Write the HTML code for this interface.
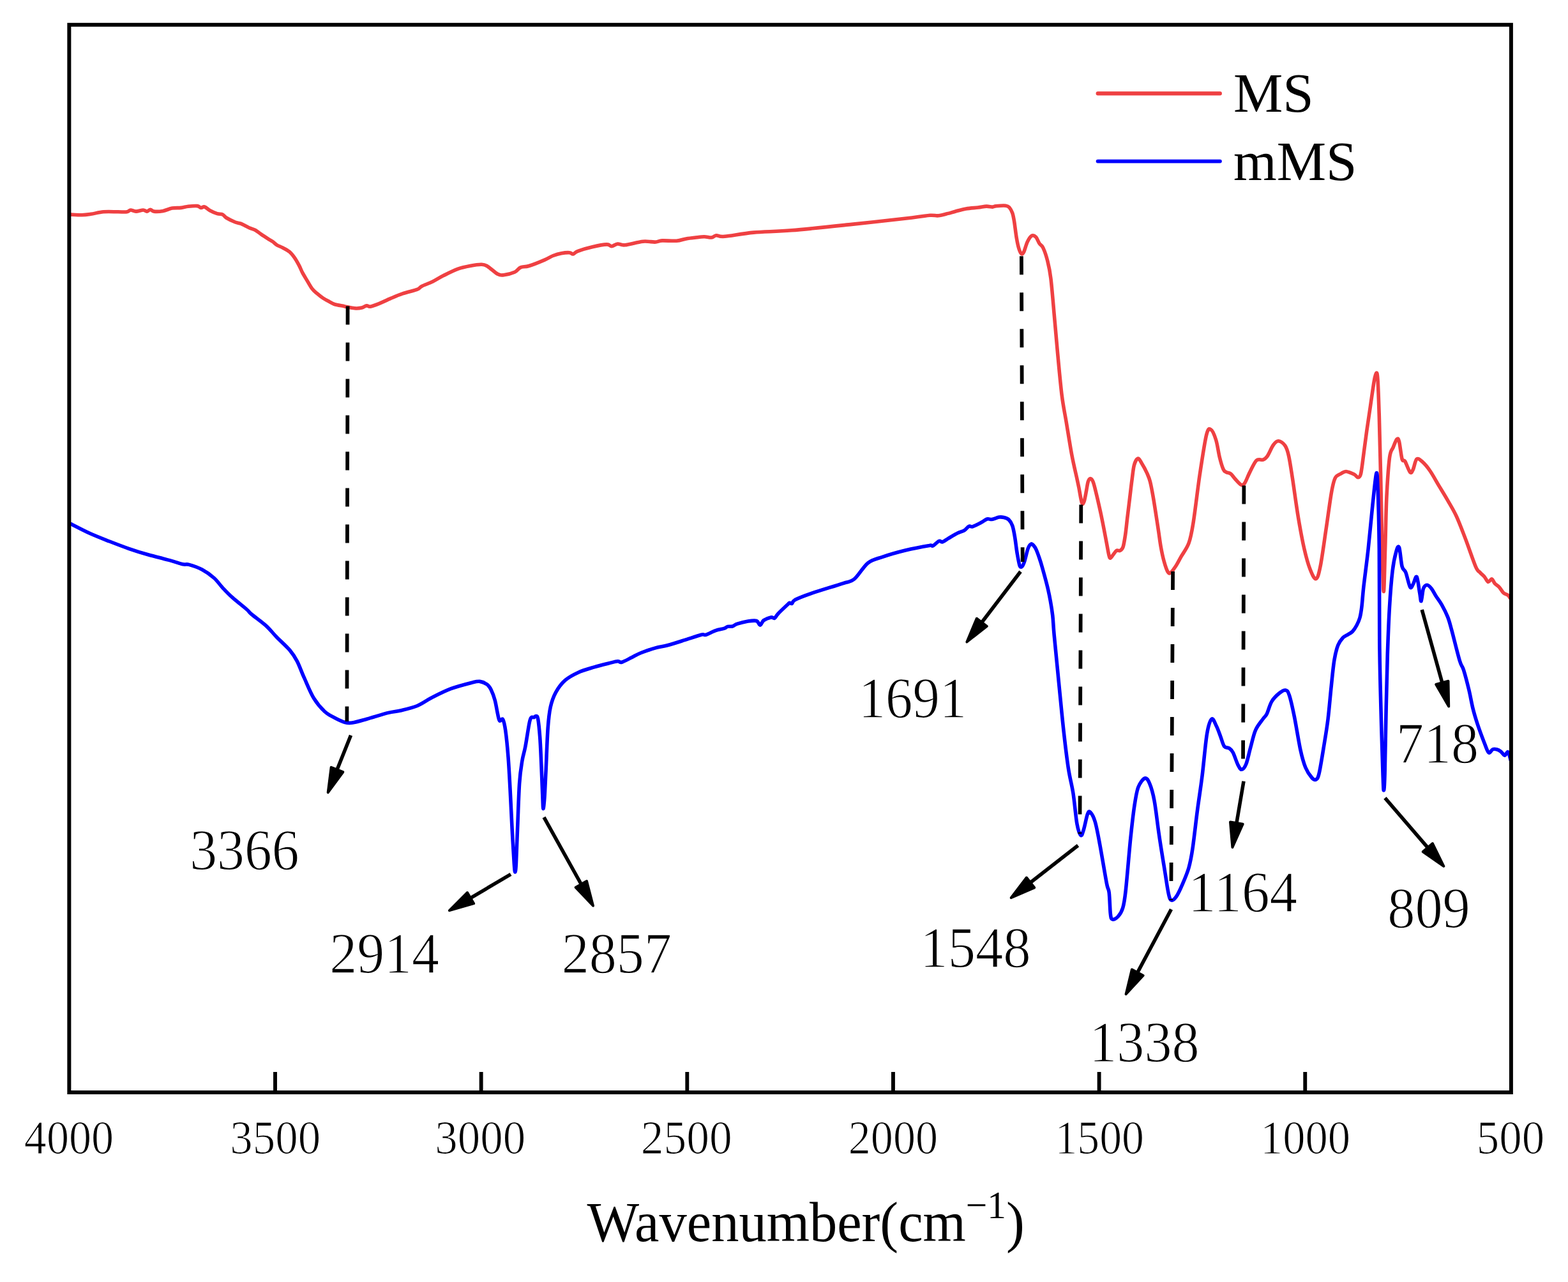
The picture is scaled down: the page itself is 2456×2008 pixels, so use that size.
<!DOCTYPE html><html><head><meta charset="utf-8"><style>html,body{margin:0;padding:0;background:#fff;overflow:hidden;}svg{display:block;} text{font-family:"Liberation Serif","Times New Roman",serif;fill:#000;}</style></head><body>
<svg width="2456" height="2008" viewBox="0 0 2456 2008">
<rect width="2456" height="2008" fill="#fff"/>
<path d="M109.9,336.0 C113.0,336.1 122.9,336.8 128.3,336.7 C133.7,336.6 136.8,336.1 142.4,335.3 C148.1,334.5 155.1,332.4 162.2,331.8 C169.3,331.2 178.7,331.8 184.8,331.8 C190.9,331.8 195.6,332.3 198.9,331.8 C202.2,331.3 202.2,329.1 204.6,329.0 C206.9,328.9 209.7,331.1 213.0,331.1 C216.3,331.1 221.5,329.0 224.3,329.0 C227.1,329.0 228.1,331.2 230.0,331.1 C231.9,331.0 233.7,328.3 235.6,328.3 C237.5,328.3 238.0,330.8 241.3,331.1 C244.6,331.5 250.7,331.2 255.4,330.4 C260.1,329.6 264.9,326.9 269.6,326.1 C274.3,325.3 279.5,325.9 283.7,325.4 C287.9,324.9 290.8,323.8 295.0,323.3 C299.2,322.8 305.8,322.2 309.1,322.6 C312.4,323.0 312.9,325.2 314.8,325.4 C316.7,325.6 318.0,323.3 320.4,324.0 C322.8,324.7 325.6,327.9 328.9,329.7 C332.2,331.5 336.9,333.6 340.2,334.6 C343.5,335.7 346.3,334.9 348.7,336.0 C351.1,337.1 351.0,339.0 354.3,341.0 C357.6,343.0 364.7,346.5 368.5,348.0 C372.3,349.5 373.5,348.8 377.0,350.2 C380.5,351.6 385.9,354.8 389.7,356.5 C393.5,358.2 396.8,358.8 400.0,360.5 C403.2,362.2 405.7,364.6 409.0,366.9 C412.3,369.2 417.0,372.2 420.0,374.1 C423.0,376.0 424.6,376.7 426.9,378.3 C429.2,379.9 431.1,382.2 433.8,383.8 C436.5,385.4 439.6,386.3 442.8,388.0 C446.0,389.7 450.1,391.6 453.2,394.2 C456.3,396.8 459.0,400.3 461.5,403.9 C464.0,407.5 466.3,411.7 468.4,415.6 C470.5,419.5 471.8,423.5 473.9,427.4 C476.0,431.3 478.4,435.1 480.8,439.1 C483.2,443.1 485.9,448.2 488.4,451.6 C490.9,455.0 493.1,456.7 496.0,459.2 C498.9,461.7 502.5,464.6 505.7,466.8 C508.9,469.0 512.4,470.7 515.4,472.3 C518.4,473.9 519.6,475.2 523.7,476.5 C527.8,477.8 534.7,478.8 540.0,479.9 C545.3,480.9 550.9,482.4 555.4,482.8 C559.9,483.2 563.6,482.8 566.7,482.1 C569.8,481.4 572.0,479.0 574.2,478.7 C576.4,478.4 576.8,480.7 579.9,480.2 C583.0,479.7 587.7,478.0 593.0,475.9 C598.3,473.8 605.6,470.1 611.9,467.4 C618.2,464.7 623.8,462.2 630.7,459.9 C637.6,457.5 648.3,455.2 653.3,453.3 C658.3,451.4 656.8,450.2 660.9,448.2 C665.0,446.1 672.1,443.8 677.8,441.0 C683.4,438.2 688.2,434.9 694.8,431.6 C701.4,428.3 710.5,423.7 717.4,421.2 C724.3,418.7 730.2,417.6 736.2,416.5 C742.2,415.4 748.8,414.3 753.2,414.3 C757.6,414.3 758.2,414.0 762.6,416.5 C767.0,419.0 775.2,426.9 779.6,429.3 C784.0,431.7 784.6,431.2 789.0,430.7 C793.4,430.2 801.6,428.3 806.0,426.3 C810.4,424.3 811.6,420.4 815.4,418.8 C819.2,417.2 822.3,418.4 828.6,416.5 C834.9,414.6 846.7,409.8 853.0,407.1 C859.3,404.4 861.9,402.2 866.3,400.5 C870.7,398.8 875.1,397.5 879.4,396.7 C883.7,395.9 889.0,395.5 892.0,395.7 C895.0,395.9 895.5,398.4 897.7,398.0 C899.9,397.6 900.2,395.2 905.2,393.3 C910.2,391.4 920.3,388.4 927.8,386.7 C935.3,385.0 945.4,383.1 950.4,382.9 C955.4,382.7 955.2,385.8 958.0,385.7 C960.8,385.6 963.9,382.3 967.4,382.0 C970.9,381.7 972.1,384.4 978.7,383.8 C985.3,383.2 999.1,379.0 1007.0,378.2 C1014.9,377.4 1020.8,379.3 1025.8,379.1 C1030.8,378.9 1031.4,377.2 1037.1,376.9 C1042.8,376.6 1053.4,377.7 1059.7,377.2 C1066.0,376.7 1070.1,374.7 1074.8,373.9 C1079.5,373.1 1083.3,372.7 1088.0,372.2 C1092.7,371.7 1098.6,370.7 1103.0,370.7 C1107.4,370.7 1111.2,372.3 1114.4,372.0 C1117.6,371.7 1118.5,369.1 1121.9,368.8 C1125.4,368.5 1125.4,371.1 1135.1,370.3 C1144.8,369.5 1162.8,365.7 1180.3,364.1 C1197.8,362.5 1214.3,362.9 1240.0,360.8 C1265.7,358.7 1302.8,354.7 1334.2,351.4 C1365.6,348.1 1408.0,343.4 1428.4,341.0 C1448.8,338.6 1449.8,337.8 1456.7,337.3 C1463.6,336.8 1465.2,338.3 1469.9,337.8 C1474.6,337.3 1480.5,335.5 1484.9,334.4 C1489.3,333.3 1491.5,332.4 1496.2,331.2 C1500.9,329.9 1507.2,327.9 1513.2,326.9 C1519.2,325.9 1526.7,325.6 1532.0,325.0 C1537.3,324.4 1541.4,323.2 1545.2,323.1 C1549.0,323.0 1552.1,324.2 1554.6,324.1 C1557.1,324.0 1556.8,323.0 1560.3,322.7 C1563.8,322.4 1572.0,321.8 1575.4,322.2 C1578.9,322.6 1579.3,323.1 1581.0,325.0 C1582.7,326.9 1584.4,329.9 1585.7,333.5 C1587.0,337.1 1587.5,340.1 1588.6,346.7 C1589.7,353.3 1591.0,365.8 1592.3,373.0 C1593.5,380.2 1594.8,385.9 1596.1,390.0 C1597.4,394.1 1598.7,396.7 1599.9,397.5 C1601.2,398.3 1602.0,397.8 1603.6,394.7 C1605.2,391.6 1607.2,382.9 1609.3,378.7 C1611.3,374.5 1613.7,370.6 1615.9,369.3 C1618.1,368.1 1620.5,369.2 1622.5,371.2 C1624.5,373.2 1626.2,378.7 1628.1,381.5 C1630.0,384.3 1631.7,383.6 1633.8,388.1 C1635.9,392.6 1638.7,400.4 1640.7,408.4 C1642.7,416.4 1644.2,422.2 1645.9,436.0 C1647.6,449.8 1649.4,472.4 1651.1,491.4 C1652.8,510.4 1654.3,528.8 1656.3,550.1 C1658.3,571.4 1660.9,600.8 1663.2,619.2 C1665.5,637.6 1667.5,645.1 1670.1,660.7 C1672.7,676.3 1676.1,698.1 1678.8,712.6 C1681.5,727.1 1684.6,739.4 1686.5,748.0 C1688.4,756.6 1688.7,757.9 1690.0,764.5 C1691.3,771.1 1693.2,784.1 1694.6,787.6 C1695.9,791.1 1696.9,788.4 1698.1,785.3 C1699.2,782.2 1700.5,774.3 1701.5,769.1 C1702.5,763.9 1703.3,757.4 1704.4,754.1 C1705.5,750.8 1706.7,749.5 1707.9,749.5 C1709.2,749.5 1710.7,751.4 1711.9,754.1 C1713.1,756.8 1714.0,760.5 1715.3,765.7 C1716.6,770.9 1718.5,778.6 1720.0,785.3 C1721.5,792.0 1723.1,798.7 1724.6,806.0 C1726.1,813.3 1727.7,821.1 1729.2,829.0 C1730.7,836.9 1732.5,846.3 1733.8,853.2 C1735.1,860.1 1736.2,867.0 1737.2,870.5 C1738.2,874.0 1738.3,874.4 1739.5,874.0 C1740.7,873.6 1742.5,870.1 1744.1,868.2 C1745.6,866.3 1747.1,863.4 1748.8,862.4 C1750.5,861.4 1752.8,863.3 1754.5,862.4 C1756.2,861.5 1757.8,860.7 1759.1,856.7 C1760.4,852.7 1761.4,846.1 1762.6,838.2 C1763.8,830.3 1764.8,819.0 1766.0,809.4 C1767.2,799.8 1768.3,790.2 1769.5,780.6 C1770.7,771.0 1771.8,760.4 1773.0,751.8 C1774.2,743.2 1774.9,734.4 1776.4,728.8 C1777.9,723.2 1780.2,718.7 1782.2,718.1 C1784.2,717.5 1785.8,721.6 1788.2,725.4 C1790.6,729.2 1794.4,736.2 1796.6,741.1 C1798.8,746.0 1799.9,748.2 1801.5,754.5 C1803.1,760.8 1804.7,769.6 1806.3,778.7 C1807.9,787.8 1809.7,799.8 1811.1,808.9 C1812.5,818.0 1813.6,825.0 1814.8,833.1 C1816.0,841.2 1817.0,849.6 1818.4,857.3 C1819.8,865.0 1821.4,872.6 1823.2,879.1 C1825.0,885.6 1827.5,893.2 1829.3,896.1 C1831.1,899.0 1831.9,898.4 1834.1,896.6 C1836.3,894.8 1839.9,889.3 1842.6,885.2 C1845.2,881.1 1846.8,877.6 1850.0,871.9 C1853.2,866.2 1858.8,859.5 1862.0,850.8 C1865.2,842.1 1866.0,837.6 1868.9,819.7 C1871.8,801.9 1875.8,766.7 1879.2,743.7 C1882.7,720.7 1886.7,693.3 1889.6,681.5 C1892.5,669.7 1894.0,671.5 1896.5,672.8 C1899.0,674.0 1902.3,681.7 1904.6,689.0 C1906.9,696.3 1908.5,708.9 1910.4,716.6 C1912.3,724.3 1914.4,731.2 1916.1,735.0 C1917.8,738.8 1918.8,738.5 1920.7,739.6 C1922.6,740.8 1925.3,740.2 1927.6,741.9 C1929.9,743.6 1931.8,747.1 1934.5,750.0 C1937.2,752.9 1941.3,758.1 1943.8,759.2 C1946.3,760.4 1947.2,760.2 1949.5,756.9 C1951.8,753.6 1954.5,745.5 1957.6,739.6 C1960.7,733.7 1964.5,724.5 1967.9,721.2 C1971.4,718.0 1975.4,721.2 1978.3,720.1 C1981.2,719.0 1982.5,718.1 1985.2,714.3 C1987.9,710.4 1991.5,700.9 1994.4,697.0 C1997.3,693.1 1999.4,690.6 2002.5,690.8 C2005.6,691.0 2010.2,694.3 2012.9,698.2 C2015.6,702.1 2016.7,705.8 2018.6,714.3 C2020.5,722.8 2021.9,732.8 2024.4,748.9 C2026.9,765.0 2030.5,792.6 2033.6,811.0 C2036.7,829.4 2039.7,846.0 2042.8,859.4 C2045.9,872.8 2048.9,883.7 2052.0,891.6 C2055.1,899.5 2058.5,907.4 2061.2,906.6 C2063.9,905.8 2065.4,900.2 2068.1,887.0 C2070.8,873.8 2074.4,846.4 2077.3,827.2 C2080.2,808.0 2083.1,785.0 2085.4,771.9 C2087.7,758.8 2088.7,753.9 2091.2,748.9 C2093.7,743.9 2097.5,743.6 2100.4,741.9 C2103.3,740.2 2105.0,738.3 2108.4,738.5 C2111.8,738.7 2118.0,741.6 2121.1,743.1 C2124.2,744.6 2125.2,747.9 2126.9,747.7 C2128.6,747.5 2130.0,748.4 2131.5,742.1 C2133.0,735.8 2134.6,720.9 2136.1,709.8 C2137.6,698.7 2139.0,687.6 2140.7,675.3 C2142.4,663.0 2144.6,649.2 2146.5,636.1 C2148.4,623.0 2150.8,605.5 2152.3,596.9 C2153.8,588.2 2154.8,584.6 2155.7,584.2 C2156.6,583.8 2157.2,583.3 2158.0,594.6 C2158.8,605.9 2159.5,627.2 2160.3,652.2 C2161.1,677.2 2161.8,709.8 2162.6,744.4 C2163.4,779.0 2164.2,829.4 2165.0,859.7 C2165.8,890.1 2166.5,926.5 2167.3,926.5 C2168.1,926.5 2168.8,884.3 2169.6,859.7 C2170.4,835.1 2170.8,802.8 2171.9,779.0 C2173.1,755.2 2174.8,729.9 2176.5,716.8 C2178.2,703.7 2180.3,705.4 2182.2,700.6 C2184.1,695.8 2186.4,689.4 2188.0,687.9 C2189.6,686.4 2190.2,686.2 2191.5,691.4 C2192.8,696.6 2194.6,713.9 2196.1,719.1 C2197.6,724.3 2198.6,719.0 2200.7,722.5 C2202.8,726.0 2206.6,737.7 2208.7,739.8 C2210.8,741.9 2211.7,738.7 2213.4,735.2 C2215.1,731.8 2216.6,721.0 2219.1,719.1 C2221.6,717.2 2224.8,720.6 2228.3,723.7 C2231.8,726.8 2235.7,731.4 2239.9,737.5 C2244.1,743.6 2249.1,752.9 2253.7,760.6 C2258.3,768.3 2262.9,775.5 2267.5,783.6 C2272.1,791.7 2276.8,799.0 2281.4,809.0 C2286.0,819.0 2290.2,830.5 2295.2,843.5 C2300.2,856.5 2307.5,878.4 2311.3,887.3 C2315.1,896.1 2315.9,893.9 2318.2,896.6 C2320.5,899.3 2323.1,901.0 2325.2,903.5 C2327.3,906.0 2329.0,910.9 2330.9,911.5 C2332.8,912.1 2335.0,906.5 2336.7,906.9 C2338.4,907.3 2339.4,911.8 2341.3,913.9 C2343.2,916.0 2345.9,917.1 2348.2,919.6 C2350.5,922.1 2352.8,926.7 2355.1,928.8 C2357.4,930.9 2360.3,930.9 2362.0,932.3 C2363.7,933.6 2364.9,936.1 2365.5,936.9" fill="none" stroke="#EF4042" stroke-width="5.6" stroke-linejoin="round" stroke-linecap="round"/>
<path d="M110.4,820.3 C115.6,822.9 131.3,831.2 141.5,835.8 C151.7,840.4 161.6,844.1 171.6,848.0 C181.6,851.9 191.6,855.8 201.7,859.3 C211.8,862.8 221.2,865.8 231.9,868.8 C242.6,871.8 256.7,875.1 265.8,877.6 C274.9,880.1 281.5,882.7 286.5,883.8 C291.5,884.9 291.0,883.0 296.0,884.4 C301.0,885.8 310.1,888.8 316.7,892.3 C323.3,895.8 330.2,900.8 335.5,905.5 C340.8,910.2 344.0,915.6 348.7,920.6 C353.4,925.6 357.5,930.1 363.8,935.7 C370.1,941.4 381.4,950.1 386.4,954.5 C391.4,958.9 388.9,957.8 393.9,962.0 C398.9,966.2 409.9,973.9 416.5,979.9 C423.1,985.9 427.0,991.3 433.2,997.7 C439.4,1004.1 448.6,1012.1 453.9,1018.4 C459.2,1024.7 461.4,1028.2 465.2,1035.4 C469.0,1042.6 472.1,1052.0 476.5,1061.7 C480.9,1071.4 486.2,1085.0 491.6,1093.8 C497.0,1102.6 503.0,1109.3 508.6,1114.5 C514.2,1119.7 520.2,1122.1 525.5,1124.9 C530.8,1127.7 536.2,1130.3 540.6,1131.5 C545.0,1132.7 546.2,1132.9 551.9,1132.0 C557.5,1131.1 565.1,1128.8 574.5,1126.2 C583.9,1123.6 599.6,1118.6 608.4,1116.4 C617.2,1114.2 619.8,1114.8 627.3,1113.0 C634.8,1111.2 645.5,1108.9 653.6,1105.5 C661.8,1102.1 667.4,1097.3 676.2,1092.8 C685.0,1088.3 695.7,1082.7 706.4,1078.7 C717.1,1074.7 732.8,1070.8 740.3,1068.9 C747.8,1067.0 747.8,1066.9 751.6,1067.4 C755.4,1067.9 760.0,1070.0 762.9,1072.1 C765.8,1074.2 767.0,1076.0 769.0,1080.1 C771.0,1084.2 773.5,1090.5 775.2,1096.7 C776.9,1102.9 778.2,1112.1 779.4,1117.5 C780.6,1122.9 781.1,1127.4 782.5,1128.9 C783.9,1130.5 786.2,1124.2 787.7,1126.8 C789.2,1129.4 790.4,1134.6 791.8,1144.4 C793.2,1154.2 794.8,1170.4 796.0,1185.9 C797.2,1201.5 798.1,1218.7 799.1,1237.7 C800.1,1256.7 801.2,1280.7 802.2,1299.9 C803.2,1319.1 804.5,1341.7 805.3,1352.7 C806.1,1363.7 806.3,1366.0 806.8,1366.0 C807.3,1366.0 807.8,1363.7 808.4,1352.7 C809.0,1341.7 809.6,1320.8 810.5,1299.9 C811.4,1279.0 812.4,1245.3 813.6,1227.3 C814.8,1209.3 816.2,1201.8 817.8,1192.1 C819.3,1182.4 821.0,1179.3 822.9,1169.3 C824.8,1159.3 827.6,1139.6 829.2,1132.0 C830.8,1124.4 831.1,1125.1 832.3,1123.7 C833.5,1122.3 835.2,1124.1 836.4,1123.7 C837.6,1123.3 838.5,1121.3 839.5,1121.6 C840.5,1121.9 841.6,1120.2 842.6,1125.7 C843.6,1131.2 844.8,1143.0 845.7,1154.8 C846.6,1166.5 847.1,1180.7 847.8,1196.2 C848.5,1211.8 849.4,1236.3 849.9,1248.1 C850.4,1259.8 850.4,1266.7 850.9,1266.7 C851.4,1266.7 852.3,1258.1 853.0,1248.1 C853.7,1238.1 854.2,1224.6 855.1,1206.6 C856.0,1188.6 857.0,1156.9 858.2,1140.3 C859.4,1123.7 860.2,1116.4 862.3,1107.1 C864.4,1097.8 866.8,1091.2 870.6,1084.3 C874.4,1077.4 879.2,1070.8 885.1,1065.6 C891.0,1060.4 898.3,1056.7 905.9,1053.2 C913.5,1049.8 922.9,1047.3 930.8,1044.9 C938.7,1042.5 947.1,1040.5 953.2,1039.0 C959.3,1037.5 963.8,1036.0 967.3,1035.7 C970.8,1035.4 970.3,1038.2 973.9,1037.2 C977.5,1036.2 984.0,1032.5 989.0,1030.0 C994.0,1027.5 997.8,1025.0 1004.1,1022.5 C1010.4,1020.0 1019.8,1016.9 1026.7,1014.9 C1033.6,1012.9 1038.0,1012.8 1045.5,1010.8 C1053.0,1008.8 1063.1,1005.5 1071.9,1002.7 C1080.7,999.9 1092.7,995.6 1098.3,994.2 C1103.9,992.8 1102.0,995.3 1105.8,994.2 C1109.6,993.1 1116.2,989.2 1120.9,987.6 C1125.6,986.0 1131.0,985.4 1134.1,984.4 C1137.2,983.4 1137.5,982.0 1139.7,981.4 C1141.9,980.8 1144.8,981.7 1147.3,981.0 C1149.8,980.3 1150.7,978.5 1154.8,977.2 C1158.9,975.9 1166.7,973.9 1171.7,973.1 C1176.7,972.3 1181.8,971.5 1184.9,972.5 C1188.1,973.5 1188.7,979.2 1190.6,979.1 C1192.5,979.0 1193.4,973.6 1196.2,971.6 C1199.0,969.6 1204.7,967.5 1207.5,966.9 C1210.3,966.3 1211.3,969.2 1213.2,968.2 C1215.1,967.2 1215.3,964.8 1218.8,961.2 C1222.2,957.6 1230.9,949.5 1233.9,946.7 C1236.7,943.9 1235.6,944.5 1236.7,944.3 C1237.8,944.0 1239.1,946.0 1240.5,945.2 C1241.9,944.4 1240.5,942.3 1245.2,939.6 C1250.4,936.9 1259.1,933.5 1271.6,929.2 C1284.1,924.9 1309.0,917.5 1320.0,913.8 C1331.0,910.1 1331.3,912.6 1337.9,907.2 C1344.5,901.9 1352.2,887.5 1359.6,881.7 C1367.0,875.9 1372.5,875.6 1382.2,872.3 C1391.9,869.0 1405.8,865.0 1418.0,862.0 C1430.2,859.0 1448.5,855.6 1455.7,854.4 C1461.3,853.2 1458.8,856.1 1461.3,855.0 C1463.8,853.9 1468.2,848.5 1470.7,847.5 C1473.2,846.5 1473.9,849.5 1476.4,848.8 C1478.9,848.1 1481.7,845.5 1485.8,843.1 C1489.9,840.7 1496.8,836.6 1500.9,834.6 C1505.0,832.6 1507.5,832.6 1510.3,830.9 C1513.1,829.2 1515.6,825.3 1517.8,824.3 C1520.0,823.3 1520.3,825.8 1523.5,824.8 C1526.7,823.8 1532.9,820.6 1536.7,818.6 C1540.5,816.6 1543.3,813.9 1546.1,813.0 C1548.9,812.1 1550.5,814.0 1553.6,813.5 C1556.7,813.0 1561.8,810.6 1564.9,810.1 C1568.1,809.6 1570.0,809.9 1572.5,810.5 C1575.0,811.1 1577.8,811.8 1580.0,813.9 C1582.2,816.0 1584.1,818.9 1585.7,823.3 C1587.3,827.7 1588.2,833.1 1589.4,840.3 C1590.7,847.5 1591.9,859.2 1593.2,866.7 C1594.5,874.2 1595.8,882.0 1597.0,885.5 C1598.2,889.0 1599.5,888.3 1600.7,887.4 C1602.0,886.5 1602.9,884.6 1604.5,879.9 C1606.1,875.2 1608.5,863.7 1610.2,859.1 C1611.9,854.5 1613.4,852.9 1614.9,852.1 C1616.4,851.3 1617.7,853.1 1619.0,854.5 C1620.3,855.9 1621.4,857.4 1622.9,860.7 C1624.4,864.0 1626.5,869.9 1628.1,874.5 C1629.7,879.1 1630.7,882.4 1632.4,888.4 C1634.1,894.4 1636.9,904.8 1638.5,910.8 C1640.1,916.8 1640.8,919.4 1641.9,924.6 C1643.1,929.8 1644.2,935.3 1645.4,941.9 C1646.6,948.5 1647.8,955.5 1648.8,964.4 C1649.8,973.2 1649.6,977.6 1651.2,995.0 C1652.8,1012.4 1656.0,1043.9 1658.4,1068.7 C1660.9,1093.5 1663.4,1121.1 1665.9,1143.6 C1668.4,1166.1 1670.9,1187.0 1673.4,1203.5 C1675.9,1220.0 1678.7,1227.9 1680.9,1242.4 C1683.2,1256.9 1684.9,1279.3 1686.9,1290.3 C1688.9,1301.3 1691.2,1306.8 1692.9,1308.3 C1694.7,1309.8 1695.7,1304.8 1697.4,1299.3 C1699.2,1293.8 1701.7,1279.8 1703.4,1275.3 C1705.1,1270.8 1705.8,1270.3 1707.8,1272.3 C1709.8,1274.3 1712.8,1278.8 1715.3,1287.3 C1717.8,1295.8 1719.8,1307.2 1722.8,1323.2 C1725.8,1339.2 1730.9,1370.6 1733.3,1383.1 C1735.7,1395.6 1736.2,1390.1 1737.2,1398.1 C1738.2,1406.1 1738.5,1424.0 1739.3,1431.0 C1740.1,1438.0 1740.3,1439.2 1742.3,1440.0 C1744.3,1440.8 1748.6,1438.5 1751.3,1435.5 C1754.0,1432.5 1756.7,1428.7 1758.7,1422.0 C1760.7,1415.3 1761.2,1413.1 1763.2,1395.1 C1765.2,1377.1 1768.5,1336.2 1770.7,1314.2 C1773.0,1292.2 1774.7,1276.9 1776.7,1263.4 C1778.7,1249.9 1780.0,1240.8 1782.7,1233.4 C1785.5,1226.0 1790.2,1220.0 1793.2,1219.0 C1796.2,1218.0 1798.2,1221.5 1800.7,1227.4 C1803.2,1233.3 1805.6,1240.9 1808.1,1254.4 C1810.6,1267.9 1812.8,1289.8 1815.6,1308.3 C1818.3,1326.8 1822.1,1349.6 1824.6,1365.1 C1827.1,1380.6 1828.8,1393.6 1830.6,1401.1 C1832.3,1408.6 1833.1,1409.6 1835.1,1410.1 C1837.1,1410.6 1839.8,1408.1 1842.6,1404.1 C1845.3,1400.1 1848.4,1393.6 1851.6,1386.1 C1854.8,1378.6 1859.3,1368.7 1862.0,1359.2 C1864.7,1349.7 1865.8,1344.2 1868.0,1329.2 C1870.2,1314.2 1873.0,1288.3 1875.5,1269.3 C1878.0,1250.3 1880.5,1235.4 1883.0,1215.4 C1885.5,1195.5 1888.0,1164.5 1890.5,1149.6 C1893.0,1134.7 1895.5,1128.2 1898.0,1126.2 C1900.5,1124.2 1903.1,1133.1 1905.4,1137.6 C1907.7,1142.1 1909.7,1148.2 1911.7,1153.4 C1913.7,1158.6 1915.3,1165.9 1917.6,1169.0 C1919.9,1172.1 1923.1,1170.4 1925.4,1172.0 C1927.7,1173.6 1929.0,1174.4 1931.3,1178.8 C1933.6,1183.2 1936.9,1194.0 1939.2,1198.4 C1941.5,1202.8 1942.9,1205.6 1945.0,1205.3 C1947.1,1205.0 1949.6,1202.2 1951.9,1196.5 C1954.2,1190.8 1956.2,1179.8 1958.7,1171.0 C1961.2,1162.2 1963.3,1151.1 1966.6,1143.6 C1969.9,1136.1 1975.4,1130.2 1978.3,1126.0 C1981.2,1121.8 1981.9,1122.8 1984.2,1118.2 C1986.5,1113.6 1988.7,1104.0 1992.0,1098.6 C1995.3,1093.2 2000.2,1088.7 2003.8,1085.8 C2007.4,1082.9 2010.9,1080.5 2013.5,1081.0 C2016.1,1081.5 2017.1,1082.0 2019.4,1088.8 C2021.7,1095.6 2024.4,1107.8 2027.3,1122.1 C2030.2,1136.4 2034.1,1161.5 2037.0,1174.9 C2039.9,1188.3 2042.0,1195.1 2044.9,1202.3 C2047.9,1209.5 2051.9,1214.9 2054.7,1218.0 C2057.5,1221.1 2059.6,1222.2 2061.5,1220.9 C2063.4,1219.6 2064.3,1219.5 2066.4,1210.2 C2068.5,1200.9 2071.9,1179.1 2074.2,1165.1 C2076.5,1151.1 2078.3,1140.7 2080.1,1126.0 C2081.9,1111.3 2083.4,1092.3 2085.0,1077.0 C2086.6,1061.7 2088.1,1045.1 2089.9,1034.0 C2091.7,1022.9 2093.5,1016.4 2095.8,1010.5 C2098.1,1004.6 2101.0,1001.5 2103.6,998.7 C2106.2,995.9 2108.9,995.4 2111.4,993.8 C2113.9,992.2 2116.0,991.6 2118.3,989.2 C2120.6,986.8 2123.2,982.8 2125.1,979.2 C2127.0,975.6 2128.7,972.3 2130.0,967.4 C2131.3,962.5 2132.0,958.1 2133.0,949.8 C2134.0,941.4 2134.4,932.3 2136.1,917.3 C2137.8,902.3 2140.8,880.8 2143.1,859.7 C2145.4,838.6 2147.9,810.1 2150.0,790.5 C2152.1,770.9 2154.4,746.7 2155.7,742.1 C2157.0,737.5 2157.2,743.3 2158.0,762.9 C2158.8,782.5 2159.8,819.6 2160.3,859.7 C2160.8,899.8 2160.4,962.4 2160.8,1003.7 C2161.2,1045.0 2162.0,1072.8 2162.9,1107.4 C2163.8,1142.0 2165.2,1189.3 2166.0,1211.1 C2166.8,1232.9 2166.9,1238.0 2167.4,1238.0 C2167.9,1238.0 2168.5,1232.9 2169.1,1211.1 C2169.7,1189.3 2170.5,1138.5 2171.2,1107.4 C2171.9,1076.3 2172.4,1050.3 2173.3,1024.4 C2174.2,998.5 2175.1,973.5 2176.4,951.8 C2177.7,930.1 2179.4,908.9 2181.1,894.3 C2182.8,879.7 2185.1,870.4 2186.8,864.3 C2188.5,858.1 2189.9,853.6 2191.5,857.4 C2193.1,861.2 2194.4,880.8 2196.1,887.3 C2197.8,893.8 2199.7,891.2 2201.8,896.6 C2203.9,902.0 2206.8,916.5 2208.7,919.6 C2210.6,922.7 2211.7,917.7 2213.4,915.0 C2215.1,912.3 2217.4,901.2 2219.1,903.5 C2220.8,905.8 2222.5,922.5 2223.7,928.8 C2224.9,935.1 2225.1,942.6 2226.1,941.5 C2227.1,940.4 2228.0,926.1 2229.5,921.9 C2231.0,917.7 2233.2,916.2 2235.3,916.2 C2237.4,916.2 2239.9,919.0 2242.2,921.9 C2244.5,924.8 2246.4,929.2 2249.1,933.4 C2251.8,937.6 2255.2,941.8 2258.3,947.3 C2261.4,952.8 2265.0,959.8 2267.6,966.4 C2270.2,973.0 2270.7,975.7 2273.8,987.1 C2276.9,998.5 2283.2,1024.4 2286.3,1034.8 C2289.4,1045.2 2290.1,1041.7 2292.5,1049.3 C2294.9,1056.9 2298.4,1070.4 2300.8,1080.4 C2303.2,1090.4 2304.8,1100.5 2307.0,1109.5 C2309.2,1118.5 2311.2,1125.0 2314.3,1134.3 C2317.4,1143.6 2322.8,1158.0 2325.7,1165.4 C2328.6,1172.8 2329.8,1177.5 2331.9,1178.9 C2334.0,1180.3 2336.0,1174.6 2338.1,1173.7 C2340.2,1172.8 2342.2,1173.2 2344.3,1173.7 C2346.4,1174.2 2348.5,1175.3 2350.6,1176.9 C2352.7,1178.5 2354.9,1182.9 2356.8,1183.1 C2358.7,1183.3 2360.4,1176.7 2362.0,1177.9 C2363.6,1179.1 2365.4,1188.2 2366.1,1190.3" fill="none" stroke="#0000FF" stroke-width="5.6" stroke-linejoin="round" stroke-linecap="round"/>
<line x1="544.6" y1="479.6" x2="543.4" y2="1130.0" stroke="#000" stroke-width="5.8" stroke-dasharray="29 28"/>
<line x1="1599.9" y1="401.3" x2="1601.7" y2="880.0" stroke="#000" stroke-width="5.8" stroke-dasharray="29 28"/>
<line x1="1693.3" y1="790.4" x2="1691.4" y2="1306.0" stroke="#000" stroke-width="5.8" stroke-dasharray="29 28"/>
<line x1="1837.1" y1="895.0" x2="1834.3" y2="1410.0" stroke="#000" stroke-width="5.8" stroke-dasharray="29 28"/>
<line x1="1948.4" y1="760.4" x2="1947.0" y2="1200.0" stroke="#000" stroke-width="5.8" stroke-dasharray="29 28"/>
<line x1="549.5" y1="1151.7" x2="526.5" y2="1209.2" stroke="#000" stroke-width="5.6"/><polygon points="513.7,1241.2 518.7,1201.8 537.3,1209.2" fill="#000" stroke="#000" stroke-width="4" stroke-linejoin="round"/>
<line x1="800.0" y1="1369.4" x2="733.6" y2="1408.6" stroke="#000" stroke-width="5.6"/><polygon points="703.9,1426.2 732.0,1398.0 742.2,1415.2" fill="#000" stroke="#000" stroke-width="4" stroke-linejoin="round"/>
<line x1="852.0" y1="1280.2" x2="912.3" y2="1388.5" stroke="#000" stroke-width="5.6"/><polygon points="929.0,1418.7 901.6,1389.9 919.0,1380.1" fill="#000" stroke="#000" stroke-width="4" stroke-linejoin="round"/>
<line x1="1598.5" y1="895.3" x2="1535.4" y2="978.0" stroke="#000" stroke-width="5.6"/><polygon points="1514.4,1005.4 1529.8,968.7 1545.7,980.9" fill="#000" stroke="#000" stroke-width="4" stroke-linejoin="round"/>
<line x1="1688.5" y1="1324.2" x2="1610.9" y2="1384.8" stroke="#000" stroke-width="5.6"/><polygon points="1583.7,1406.1 1607.9,1374.5 1620.2,1390.3" fill="#000" stroke="#000" stroke-width="4" stroke-linejoin="round"/>
<line x1="1834.5" y1="1424.2" x2="1779.9" y2="1526.7" stroke="#000" stroke-width="5.6"/><polygon points="1763.6,1557.1 1772.9,1518.5 1790.6,1527.9" fill="#000" stroke="#000" stroke-width="4" stroke-linejoin="round"/>
<line x1="1948.0" y1="1223.6" x2="1936.2" y2="1293.1" stroke="#000" stroke-width="5.6"/><polygon points="1930.4,1327.1 1927.0,1287.5 1946.7,1290.8" fill="#000" stroke="#000" stroke-width="4" stroke-linejoin="round"/>
<line x1="2169.4" y1="1249.9" x2="2238.9" y2="1330.6" stroke="#000" stroke-width="5.6"/><polygon points="2261.4,1356.8 2228.7,1334.1 2243.9,1321.1" fill="#000" stroke="#000" stroke-width="4" stroke-linejoin="round"/>
<line x1="2227.2" y1="955.0" x2="2260.0" y2="1073.2" stroke="#000" stroke-width="5.6"/><polygon points="2269.2,1106.5 2249.2,1072.0 2268.5,1066.7" fill="#000" stroke="#000" stroke-width="4" stroke-linejoin="round"/>
<rect x="108.35" y="38.8" width="2258.55" height="1672.20" fill="none" stroke="#000" stroke-width="6" stroke-linejoin="miter"/>
<line x1="431.00" y1="1679" x2="431.00" y2="1709" stroke="#000" stroke-width="5.9"/>
<line x1="753.65" y1="1679" x2="753.65" y2="1709" stroke="#000" stroke-width="5.9"/>
<line x1="1076.30" y1="1679" x2="1076.30" y2="1709" stroke="#000" stroke-width="5.9"/>
<line x1="1398.95" y1="1679" x2="1398.95" y2="1709" stroke="#000" stroke-width="5.9"/>
<line x1="1721.60" y1="1679" x2="1721.60" y2="1709" stroke="#000" stroke-width="5.9"/>
<line x1="2044.25" y1="1679" x2="2044.25" y2="1709" stroke="#000" stroke-width="5.9"/>
<text transform="translate(108.00,1806.60) scale(0.9456,1)" font-size="74.2" text-anchor="middle" stroke="#fff" stroke-width="1.2">4000</text>
<text transform="translate(431.20,1806.60) scale(0.9560,1)" font-size="74.2" text-anchor="middle" stroke="#fff" stroke-width="1.2">3500</text>
<text transform="translate(752.30,1806.60) scale(0.9560,1)" font-size="74.2" text-anchor="middle" stroke="#fff" stroke-width="1.2">3000</text>
<text transform="translate(1075.30,1806.60) scale(0.9632,1)" font-size="74.2" text-anchor="middle" stroke="#fff" stroke-width="1.2">2500</text>
<text transform="translate(1398.90,1806.60) scale(0.9454,1)" font-size="74.2" text-anchor="middle" stroke="#fff" stroke-width="1.2">2000</text>
<text transform="translate(1722.20,1806.60) scale(0.9411,1)" font-size="74.2" text-anchor="middle" stroke="#fff" stroke-width="1.2">1500</text>
<text transform="translate(2044.55,1806.60) scale(0.9520,1)" font-size="74.2" text-anchor="middle" stroke="#fff" stroke-width="1.2">1000</text>
<text transform="translate(2366.00,1806.60) scale(0.9559,1)" font-size="74.2" text-anchor="middle" stroke="#fff" stroke-width="1.2">500</text>
<text transform="translate(382.90,1362.30) scale(0.9497,1)" font-size="90.2" text-anchor="middle" stroke="#fff" stroke-width="1.3">3366</text>
<text transform="translate(602.10,1523.90) scale(0.9526,1)" font-size="90.2" text-anchor="middle" stroke="#fff" stroke-width="1.3">2914</text>
<text transform="translate(965.80,1523.70) scale(0.9555,1)" font-size="90.2" text-anchor="middle" stroke="#fff" stroke-width="1.3">2857</text>
<text transform="translate(1429.40,1123.60) scale(0.9395,1)" font-size="90.2" text-anchor="middle" stroke="#fff" stroke-width="1.3">1691</text>
<text transform="translate(1528.00,1515.10) scale(0.9611,1)" font-size="90.2" text-anchor="middle" stroke="#fff" stroke-width="1.3">1548</text>
<text transform="translate(1792.40,1663.20) scale(0.9550,1)" font-size="90.2" text-anchor="middle" stroke="#fff" stroke-width="1.3">1338</text>
<text transform="translate(1946.50,1427.50) scale(0.9672,1)" font-size="90.2" text-anchor="middle" stroke="#fff" stroke-width="1.3">1164</text>
<text transform="translate(2238.00,1452.50) scale(0.9583,1)" font-size="90.2" text-anchor="middle" stroke="#fff" stroke-width="1.3">809</text>
<text transform="translate(2251.60,1195.00) scale(0.9540,1)" font-size="90.2" text-anchor="middle" stroke="#fff" stroke-width="1.3">718</text>
<text transform="translate(919.40,1943.60) scale(0.9829,1)" font-size="88">Wavenumber(cm<tspan font-size="60.5" dy="-35.8">−1</tspan><tspan dy="35.8">)</tspan></text>
<line x1="1719.6" y1="146.4" x2="1910.9" y2="146.4" stroke="#EF4042" stroke-width="6.1" stroke-linecap="round"/>
<line x1="1719.6" y1="252.6" x2="1910.9" y2="252.6" stroke="#0000FF" stroke-width="5.9" stroke-linecap="round"/>
<text x="1932" y="175" font-size="87">MS</text>
<text x="1932" y="281.7" font-size="87">mMS</text>
</svg></body></html>
